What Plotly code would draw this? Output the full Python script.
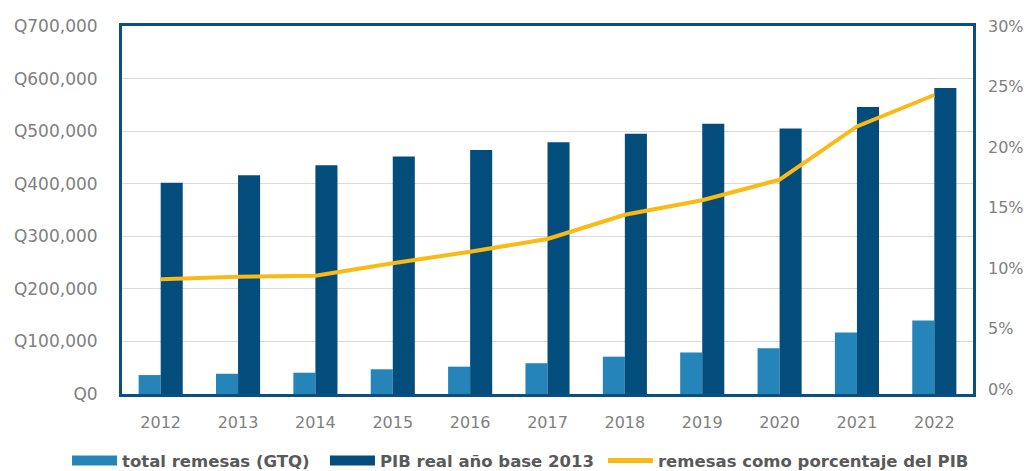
import plotly.graph_objects as go

years = ["2012", "2013", "2014", "2015", "2016", "2017", "2018", "2019", "2020", "2021", "2022"]
remesas = [36000, 38500, 40500, 47000, 52000, 58500, 71000, 79000, 87000, 117000, 140000]
pib = [402000, 416000, 435000, 452000, 464000, 479000, 495000, 514000, 505000, 546000, 582000]
porcentaje = [9.07, 9.28, 9.36, 10.4, 11.35, 12.4, 14.4, 15.6, 17.3, 21.7, 24.3]

names = ["total remesas (GTQ)", "PIB real año base 2013", "remesas como porcentaje del PIB"]
c_light = "#2584b8"
c_dark = "#034d7c"
c_line = "#fbb914"
c_frame = "#0b4f80"
c_tick = "#808080"
c_legend = "#595959"

fig = go.Figure()
fig.add_trace(go.Bar(x=years, y=remesas, name=names[0], marker_color=c_light,
                     marker_line_width=0, showlegend=False, legendgroup="a"))
fig.add_trace(go.Bar(x=years, y=pib, name=names[1], marker_color=c_dark,
                     marker_line_width=0, showlegend=False, legendgroup="b"))
fig.add_trace(go.Scatter(x=years, y=porcentaje, name=names[2], yaxis="y2",
                         mode="lines", line=dict(color=c_line, width=4),
                         showlegend=False, legendgroup="c"))
# legend proxies (wide swatches like the original), one legend box per entry
for nm, col, w, g, lg in [(names[0], c_light, 10, "a", "legend"),
                          (names[1], c_dark, 10, "b", "legend2"),
                          (names[2], c_line, 5, "c", "legend3")]:
    fig.add_trace(go.Scatter(x=[None], y=[None], name=nm, mode="lines", legend=lg,
                             line=dict(color=col, width=w), legendgroup=g))

leg_common = dict(orientation="h", xref="paper", xanchor="left",
                  yref="container", y=0.022, yanchor="middle",
                  font=dict(size=16.5, color=c_legend, family="DejaVu Sans", weight="bold"),
                  itemwidth=45, bgcolor="rgba(0,0,0,0)")

# the page body has an 8px margin, so the figure is sized to the visible area
fig.update_layout(
    width=1023, height=463,
    margin=dict(l=114, r=58, t=18, b=77, autoexpand=False),
    plot_bgcolor="white", paper_bgcolor="white",
    font=dict(family="DejaVu Sans", color=c_tick, size=16),
    barmode="group", bargap=0.43, bargroupgap=0,
    legend=dict(x=-0.0646, **leg_common),
    legend2=dict(x=0.2385, **leg_common),
    legend3=dict(x=0.5652, **leg_common),
    xaxis=dict(showgrid=False, showline=True, linecolor=c_frame, linewidth=3, mirror=True,
               ticks="", ticklabelstandoff=12, automargin=False,
               tickfont=dict(size=16, color=c_tick)),
    yaxis=dict(range=[0, 700000], dtick=100000, tickprefix="Q", tickformat=",.0f",
               showgrid=True, gridcolor="#d9d9d9", gridwidth=1,
               showline=True, linecolor=c_frame, linewidth=3, mirror=True,
               ticks="", ticklabelstandoff=18, zeroline=False, automargin=False,
               tickfont=dict(size=17, color=c_tick)),
    yaxis2=dict(range=[-0.41, 30], dtick=5, ticksuffix="%", overlaying="y", side="right",
                showgrid=False, showline=False, zeroline=False, ticks="", automargin=False,
                ticklabelstandoff=14, tickfont=dict(size=16, color=c_tick)),
)

fig.write_html("out.html")
